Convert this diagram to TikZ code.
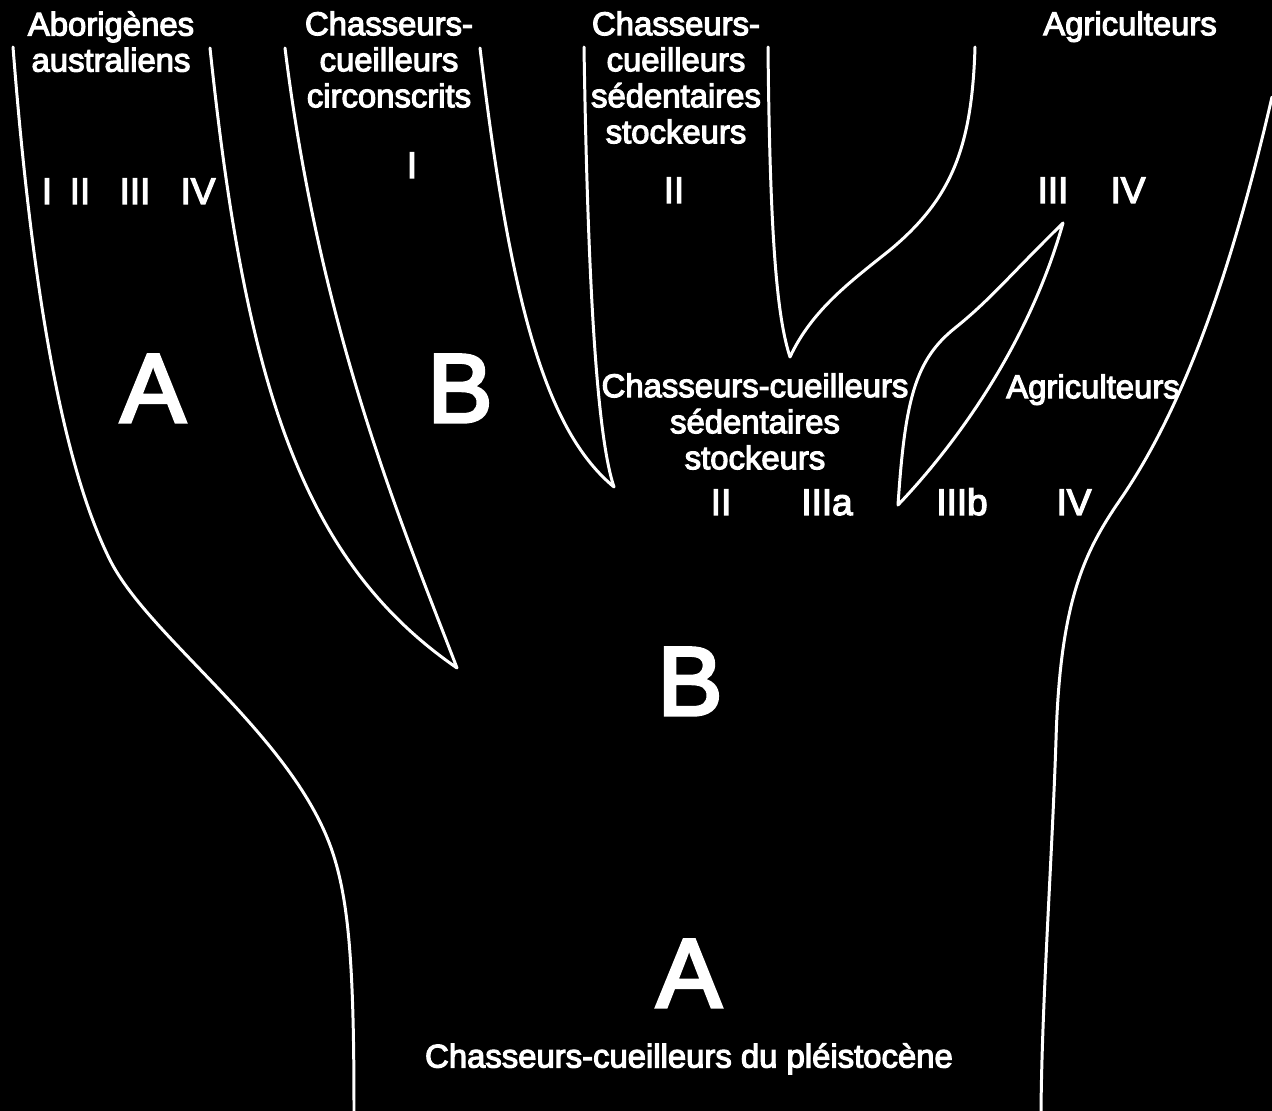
\documentclass[tikz,border=0pt]{standalone}
\usepackage{fontspec}
\setmainfont{Liberation Sans}
\newfontfamily\diagfont{Liberation Sans}[FakeBold=3.5]
\begin{document}
\begin{tikzpicture}[x=0.02cm,y=-0.02cm,branch/.style={draw=white,line width=1.7pt,line join=round,line cap=round},title/.style={text=white,align=center,inner sep=0pt,anchor=north,font=\diagfont\fontsize{18.7}{20.5}\selectfont},period/.style={text=white,inner sep=0pt,anchor=base,font=\diagfont\fontsize{21}{24}\selectfont},stage/.style={text=white,inner sep=0pt,anchor=base,font=\diagfont\fontsize{55.5}{60}\selectfont}]
\fill[black] (0,0) rectangle (1272,1111);
\useasboundingbox (0,0) rectangle (1272,1111);
\draw[branch] (13,47) .. controls (35,330) and (70,480) .. (110,560) .. controls (150,640) and (300,740) .. (335,860) .. controls (350,910) and (354,980) .. (354,1111);
\draw[branch] (210,48) .. controls (245,380) and (300,560) .. (457,668) .. controls (400,520) and (320,330) .. (285,48);
\draw[branch] (480,48) .. controls (510,300) and (545,430) .. (614,487) .. controls (598,440) and (588,300) .. (584,47);
\draw[branch] (768,47) .. controls (770,250) and (778,320) .. (790,357) .. controls (812,310) and (850,282) .. (890,250) .. controls (950,200) and (972,150) .. (975,47);
\draw[branch] (1063,223) .. controls (1010,275) and (990,300) .. (955,328) .. controls (915,360) and (905,400) .. (898,505) .. controls (960,440) and (1030,340) .. (1063,223) -- cycle;
\draw[branch] (1272,97) .. controls (1225,300) and (1175,420) .. (1120,500) .. controls (1085,551) and (1060,600) .. (1056,740) .. controls (1052,860) and (1042,1000) .. (1041,1111);
\node[title] (aborig) at (111,11) {Aborigènes\\australiens};
\node[title] (circ) at (389,11) {Chasseurs-\\cueilleurs\\circonscrits};
\node[title] (sed) at (676,11) {Chasseurs-\\cueilleurs\\sédentaires\\stockeurs};
\node[title] (agri) at (1130,11) {Agriculteurs};
\node[title] (sedmid) at (755,373) {Chasseurs-cueilleurs\\sédentaires\\stockeurs};
\node[title] (agrimid) at (1093,374) {Agriculteurs};
\node[title] (pleist) at (689,1043) {Chasseurs-cueilleurs du pléistocène};
\node[period] (ab1) at (47,204) {I};
\node[period] (ab2) at (80,204) {II};
\node[period] (ab3) at (135,204) {III};
\node[period] (ab4) at (198,204) {IV};
\node[period] (ci1) at (412,178) {I};
\node[period] (se2) at (674,203) {II};
\node[period] (ag3) at (1053,203) {III};
\node[period] (ag4) at (1128,203) {IV};
\node[period] (mid2) at (721,515) {II};
\node[period] (mid3a) at (827,515) {IIIa};
\node[period] (mid3b) at (962,515) {IIIb};
\node[period] (mid4) at (1074,515) {IV};
\node[stage] (stA1) at (153,422) {A};
\node[stage] (stB1) at (460,422) {B};
\node[stage] (stB2) at (690,715) {B};
\node[stage] (stA2) at (689,1007) {A};
\end{tikzpicture}
\end{document}
